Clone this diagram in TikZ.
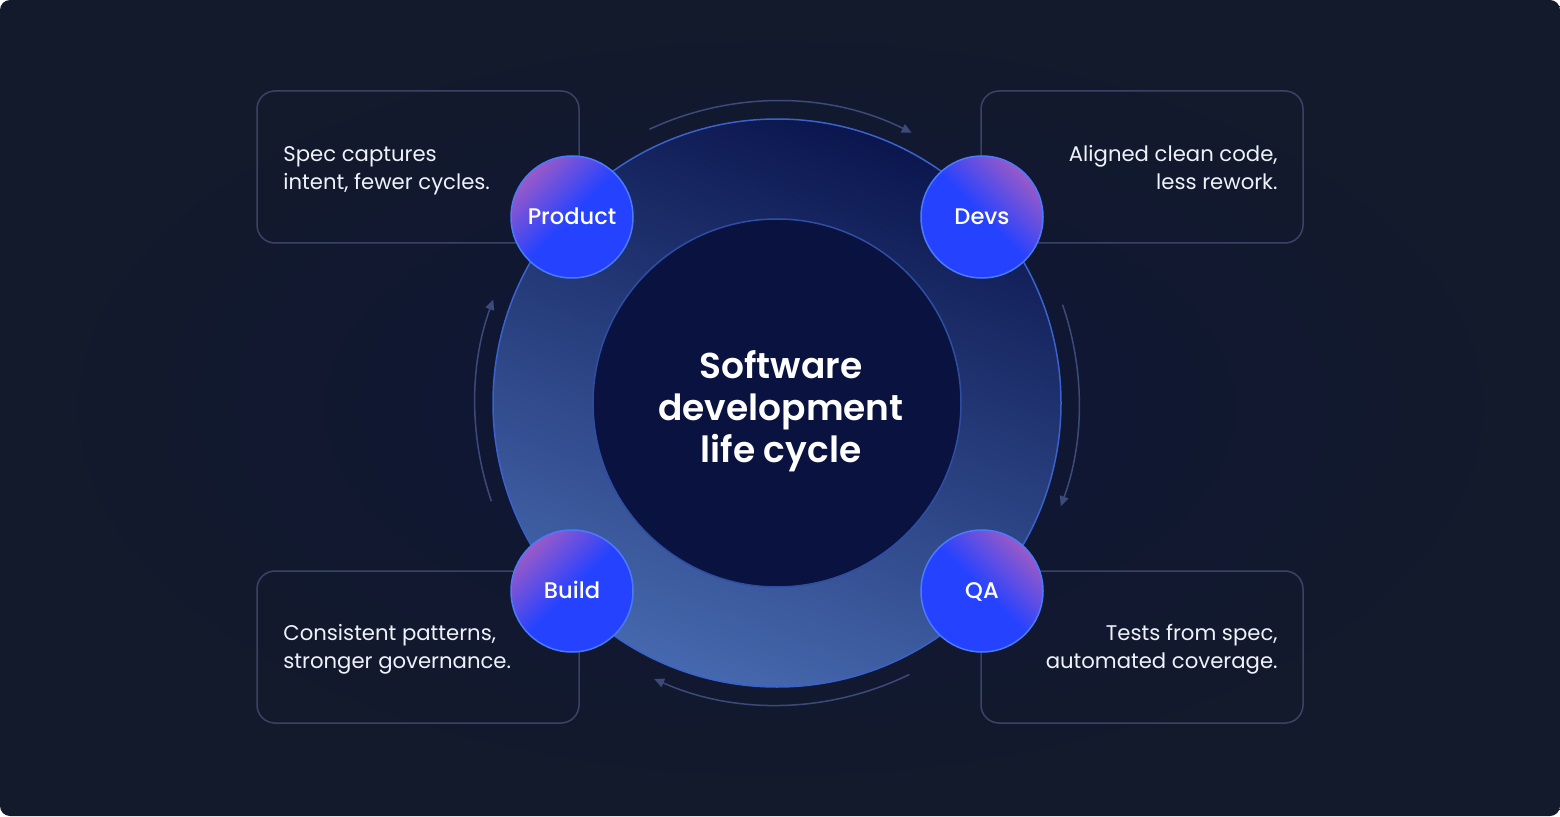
\documentclass[tikz,border=0pt]{standalone}
\usepackage{fontspec}
\setmainfont{Poppins}
\newfontfamily\stagefamily{Poppins Medium}
\newfontfamily\titlefamily{Poppins SemiBold}
\usetikzlibrary{arrows.meta}
\definecolor{bgA}{HTML}{0D1537}
\definecolor{bgB}{HTML}{131A2B}
\definecolor{cardline}{HTML}{3A4366}
\definecolor{flowC}{HTML}{3C4A7A}
\definecolor{ringTop}{HTML}{0B164E}
\definecolor{ringBot}{HTML}{4668AE}
\definecolor{ringEdge}{HTML}{3A62CC}
\definecolor{coreC}{HTML}{0A1240}
\definecolor{stageBlue}{HTML}{2442FF}
\definecolor{stagePurple}{HTML}{9A5AC8}
\definecolor{stageEdge}{HTML}{4A7BFF}
\definecolor{txt}{HTML}{F0F2FA}
\begin{document}
\begin{tikzpicture}[x=0.5pt,y=0.5pt,
  card/.style={draw=cardline, line width=0.75pt, rounded corners=9pt,
    minimum width=161pt, minimum height=76pt, inner sep=0pt},
  cardtext/.style={text=txt, inner sep=0pt, font=\fontsize{10.6}{14}\selectfont},
  flow/.style={draw=flowC, line width=0.75pt, -{Triangle[length=5pt,width=4.5pt]}},
  stage/.style={circle, minimum size=61pt, inner sep=0pt, draw=stageEdge,
    line width=0.75pt, top color=stagePurple, bottom color=stageBlue,
    middle color=stageBlue, text=white, text height=7.9pt, text depth=0pt,
    font=\stagefamily\fontsize{11.3}{12}\selectfont},
  stageL/.style={stage, shading angle=45},
  stageR/.style={stage, shading angle=-45},
  title/.style={text=white, align=center, inner sep=0pt,
    font=\titlefamily\fontsize{18}{21}\selectfont}
]
\useasboundingbox (0,0) rectangle (1560,816);
\fill[white] (0,0) rectangle (1560,816);
\shade[inner color=bgA, outer color=bgB, rounded corners=5pt] (0,0) rectangle (1560,816);

% description cards
\node[card] (specbox)  at (418,649) {};
\node[card] (devbox)   at (1142,649) {};
\node[card] (buildbox) at (418,169) {};
\node[card] (qabox)    at (1142,169) {};

\node[cardtext, anchor=west, align=left]  (spectxt)  at (283,645.6)  {\strut Spec captures\\intent, fewer cycles.\strut};
\node[cardtext, anchor=east, align=right] (devtxt)   at (1278,645.6) {\strut Aligned clean code,\\less rework.\strut};
\node[cardtext, anchor=west, align=left]  (buildtxt) at (283,167.6)  {\strut Consistent patterns,\\stronger governance.\strut};
\node[cardtext, anchor=east, align=right] (qatxt)    at (1278,167.6) {\strut Tests from spec,\\automated coverage.\strut};

% ring
\coordinate (ring) at (777,413);
\shade[top color=ringTop, bottom color=ringBot, shading angle=-20] (ring) circle[radius=284];
\draw[ringEdge, line width=0.75pt] (ring) circle[radius=284];
\fill[coreC] (ring) circle[radius=184];
\draw[ringEdge!80!black, line width=0.75pt] (ring) circle[radius=184];

% flow arcs
\draw[flow] ([shift={(115:302)}]ring) arc[start angle=115, end angle=63.5, radius=302];
\draw[flow] ([shift={(19:302)}]ring) arc[start angle=19, end angle=-20, radius=302];
\draw[flow] ([shift={(-64:302)}]ring) arc[start angle=-64, end angle=-114, radius=302];
\draw[flow] ([shift={(199:302)}]ring) arc[start angle=199, end angle=160, radius=302];

\node[title] (title) at (781,405) {Software\\development\\life cycle};

% stages
\node[stageL] (product) at (572,599) {Product};
\node[stageR] (devs)    at (982,599) {Devs};
\node[stageL] (build)   at (572,225) {Build};
\node[stageR] (qa)      at (982,225) {QA};
\end{tikzpicture}
\end{document}
